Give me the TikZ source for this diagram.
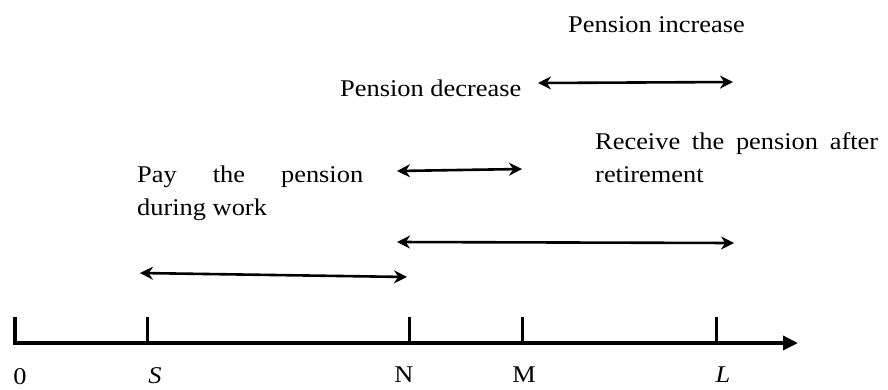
\documentclass[tikz,border=0pt]{standalone}
\usepackage{fontspec}
\setmainfont{Liberation Serif}[FakeStretch=1.1]
\usetikzlibrary{arrows.meta}
\hyphenpenalty=10000
\tolerance=9999

\begin{document}
\begin{tikzpicture}[x=1pt,y=-1pt,
    twoway/.style={line width=2.6pt,
      {Stealth[length=13pt,width=13pt]}-{Stealth[length=13pt,width=13pt]}},
    lbl/.style={inner sep=0pt,font=\fontsize{24}{33}\selectfont},
    para/.style={lbl,align=justify}]
    \useasboundingbox (0,0) rectangle (888,389);

    % time axis and ticks
    \coordinate (O) at (15,343);
    \coordinate (S) at (147,343);
    \coordinate (N) at (409,343);
    \coordinate (M) at (522,343);
    \coordinate (L) at (716,343);
    \coordinate (end) at (798,343);
    \draw[line width=3.5pt,-{Triangle[length=15pt,width=14pt]}] (15,317) -- (O) -- (end);
    \foreach \t in {S,N,M,L}
      \draw[line width=3pt] (\t) -- ++(0,-26);

    \node[lbl,anchor=base] (lO) at (20,384) {0};
    \node[lbl,anchor=base] (lS) at (155,383) {\itshape S};
    \node[lbl,anchor=base] (lN) at (404,382) {N};
    \node[lbl,anchor=base] (lM) at (524,382) {M};
    \node[lbl,anchor=base] (lL) at (723,382) {\itshape L};

    % periods
    \coordinate (pay-a) at (140,273);
    \coordinate (pay-b) at (407,277);
    \coordinate (rec-a) at (397,242);
    \coordinate (rec-b) at (734,243);
    \coordinate (dec-a) at (397,171);
    \coordinate (dec-b) at (522,169);
    \coordinate (inc-a) at (538,83);
    \coordinate (inc-b) at (733,82);
    \draw[twoway] (pay-a) -- (pay-b);
    \draw[twoway] (rec-a) -- (rec-b);
    \draw[twoway] (dec-a) -- (dec-b);
    \draw[twoway] (inc-a) -- (inc-b);

    \node[para,text width=226pt,anchor=base west] (pay) at (137,182)
      {Pay the pension during work};
    \node[para,text width=283pt,anchor=base west] (rec) at (595,149)
      {Receive the pension after retirement};
    \node[lbl,anchor=base west] (dec) at (340,96) {Pension decrease};
    \node[lbl,anchor=base west] (inc) at (568,32) {Pension increase};
\end{tikzpicture}
\end{document}
